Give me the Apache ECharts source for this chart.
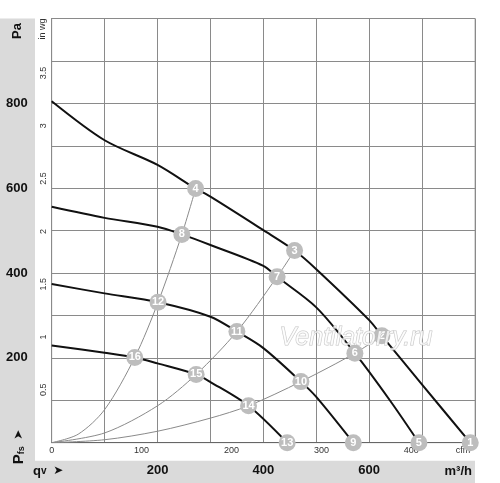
<!DOCTYPE html>
<html>
<head>
<meta charset="utf-8">
<script src="https://cdn.jsdelivr.net/npm/echarts@6/dist/echarts.min.js"></script>
<style>
  html, body { margin: 0; padding: 0; background: #fff; }
  #chart { width: 500px; height: 483px; }
</style>
</head>
<body>
<div id="chart"></div>
<script>
// ---- data (qv in m3/h, Pfs in Pa) ----
const curve1Q = [0, 100, 200, 272, 300, 400, 459, 500, 600, 624, 700, 791];
const curve1P = [805, 713, 655, 599, 580, 501, 453, 409, 289, 252, 137, 0];
const curve2Q = [0, 100, 200, 246, 300, 400, 426, 500, 573, 639, 694];
const curve2P = [556, 530, 509, 491, 466, 417, 391, 319, 211, 100, 0];
const curve3Q = [0, 100, 201, 300, 350, 400, 471, 500, 570];
const curve3P = [374, 352, 331, 297, 262, 223, 144, 108, 0];
const curve4Q = [0, 100, 157, 200, 273, 300, 372, 445];
const curve4P = [229, 212, 201, 187, 161, 143, 87, 0];

const sysAQ = [0, 50, 100, 157, 201, 246, 272];
const sysAP = [0, 20, 78, 201, 331, 491, 599];
const sysBQ = [0, 100, 200, 273, 350, 426, 459];
const sysBP = [0, 23, 87, 161, 262, 391, 453];
const sysCQ = [0, 100, 200, 300, 372, 471, 573, 624];
const sysCP = [0, 7, 27, 58, 87, 144, 211, 252];

const pointIds = [1, 2, 3, 4, 5, 6, 7, 8, 9, 10, 11, 12, 13, 14, 15, 16];
const pointQ = [791, 624, 459, 272, 694, 573, 426, 246, 570, 471, 350, 201, 445, 372, 273, 157];
const pointP = [0, 252, 453, 599, 0, 211, 391, 491, 0, 144, 262, 331, 0, 87, 161, 201];

const paTickLabels = [200, 400, 600, 800];
const m3hTickLabels = [200, 400, 600];
const cfmTickLabels = [0, 100, 200, 300, 400];
const inwgTickLabels = [0.5, 1, 1.5, 2, 2.5, 3, 3.5];

const M3H_PER_CFM = 1.699;
const PA_PER_INWG = 249.089;
const qMax = 800, pMax = 1000;

// ---- build chart ----
const FONT = '"Liberation Sans", Arial, sans-serif';
const zip = (a, b) => a.map((v, i) => [v, b[i]]);

const fanStyle = { color: '#111', width: 2 };
const sysStyle = { color: '#8a8a8a', width: 1 };

function fan(q, p) {
  return { type: 'line', data: zip(q, p), smooth: 0.3,
    showSymbol: false, silent: true, lineStyle: fanStyle, z: 3 };
}
function sys(q, p) {
  return { type: 'line', data: zip(q, p), smooth: 0.3,
    showSymbol: false, silent: true, lineStyle: sysStyle, z: 2 };
}

const chart = echarts.init(document.getElementById('chart'), null, { renderer: 'canvas' });
chart.setOption({
  animation: false,
  grid: { left: 51.7, top: 18.5, right: 25, bottom: 40.3, show: true,
          borderColor: '#b0b0b0', borderWidth: 1, backgroundColor: 'transparent' },
  xAxis: [
    { type: 'value', min: 0, max: qMax, interval: 100, position: 'bottom',
      axisLine: { show: true, lineStyle: { color: '#666', width: 1 } },
      axisTick: { show: false },
      splitLine: { show: true, lineStyle: { color: '#8a8a8a', width: 1 } },
      axisLabel: { margin: 21, fontFamily: FONT, fontSize: 13, fontWeight: 'bold', color: '#111',
        formatter: v => m3hTickLabels.includes(v) ? String(v) : '' } },
    { type: 'value', min: 0, max: qMax / M3H_PER_CFM, interval: 100, position: 'bottom',
      axisLine: { show: false }, axisTick: { show: false }, splitLine: { show: false },
      axisLabel: { margin: 3, fontFamily: FONT, fontSize: 9, color: '#333',
        showMaxLabel: false,
        formatter: v => cfmTickLabels.includes(v) ? String(v) : '' } }
  ],
  yAxis: [
    { type: 'value', min: 0, max: pMax, interval: 100, position: 'left',
      axisLine: { show: true, lineStyle: { color: '#8a8a8a', width: 1 } },
      axisTick: { show: false },
      splitLine: { show: true, lineStyle: { color: '#8a8a8a', width: 1 } },
      axisLabel: { margin: 24, fontFamily: FONT, fontSize: 13, fontWeight: 'bold', color: '#111',
        formatter: v => paTickLabels.includes(v) ? String(v) : '' } },
    { type: 'value', min: 0, max: pMax / PA_PER_INWG, interval: 0.5, position: 'left',
      axisLine: { show: false }, axisTick: { show: false }, splitLine: { show: false },
      axisLabel: { margin: 4, rotate: 90, fontFamily: FONT, fontSize: 9, color: '#333',
        showMaxLabel: false,
        formatter: v => inwgTickLabels.includes(v) ? String(v) : '' } }
  ],
  series: [
    sys(sysAQ, sysAP), sys(sysBQ, sysBP), sys(sysCQ, sysCP),
    fan(curve1Q, curve1P), fan(curve2Q, curve2P), fan(curve3Q, curve3P), fan(curve4Q, curve4P),
    { type: 'scatter', silent: true, z: 5, clip: false,
      data: pointIds.map((id, i) => [pointQ[i], pointP[i], id]),
      symbol: 'circle', symbolSize: 17,
      itemStyle: { color: '#bdbdbd', opacity: 1 },
      label: { show: true, position: 'inside', formatter: p => String(p.value[2]),
        color: '#ffffff', opacity: 1, textBorderWidth: 0, fontFamily: FONT, fontSize: 11, fontWeight: 'bold' } }
  ],
  graphic: [
    { type: 'rect', z: -100, silent: true, shape: { x: 0, y: 18.5, width: 35, height: 465 },
      style: { fill: '#dadada' } },
    { type: 'rect', z: -100, silent: true, shape: { x: 0, y: 460.7, width: 475, height: 23 },
      style: { fill: '#dadada' } },
    { type: 'text', x: 17, y: 31, rotation: Math.PI / 2, silent: true,
      style: { text: 'Pa', font: 'bold 13px ' + FONT, fill: '#111', align: 'center', verticalAlign: 'middle' } },
    { type: 'text', x: 43, y: 29, rotation: Math.PI / 2, silent: true,
      style: { text: 'in wg', font: '9px ' + FONT, fill: '#333', align: 'center', verticalAlign: 'middle' } },
    { type: 'text', x: 19, y: 447, rotation: Math.PI / 2, silent: true,
      style: { text: '{p|P}{s|fs}  {a|➤}', align: 'center', verticalAlign: 'middle', fill: '#111',
        rich: {
          p: { font: 'bold 15px ' + FONT, fill: '#111' },
          s: { font: 'bold 9px ' + FONT, fill: '#111', verticalAlign: 'bottom', padding: [4, 0, 0, 0] },
          a: { font: 'bold 12px "DejaVu Sans", sans-serif', fill: '#111' }
        } } },
    { type: 'text', x: 33, y: 471, silent: true,
      style: { text: '{q|q}{v|v}  {a|➤}', align: 'left', verticalAlign: 'middle', fill: '#111',
        rich: {
          q: { font: 'bold 13px ' + FONT, fill: '#111' },
          v: { font: 'bold 10px ' + FONT, fill: '#111' },
          a: { font: 'bold 12px "DejaVu Sans", sans-serif', fill: '#111' }
        } } },
    { type: 'text', x: 472, y: 471, silent: true,
      style: { text: 'm³/h', font: 'bold 13px ' + FONT, fill: '#111', align: 'right', verticalAlign: 'middle' } },
    { type: 'text', x: 463, y: 451, silent: true,
      style: { text: 'cfm', font: '9px ' + FONT, fill: '#333', align: 'center', verticalAlign: 'middle' } },
    { type: 'text', x: 356, y: 338, silent: true, z: 10,
      style: { text: 'Ventilatorry.ru', font: 'italic 25px ' + FONT, fill: 'rgba(255,255,255,0.75)',
        stroke: 'rgba(180,180,180,0.8)', lineWidth: 1, align: 'center', verticalAlign: 'middle' } }
  ]
});
</script>
</body>
</html>
